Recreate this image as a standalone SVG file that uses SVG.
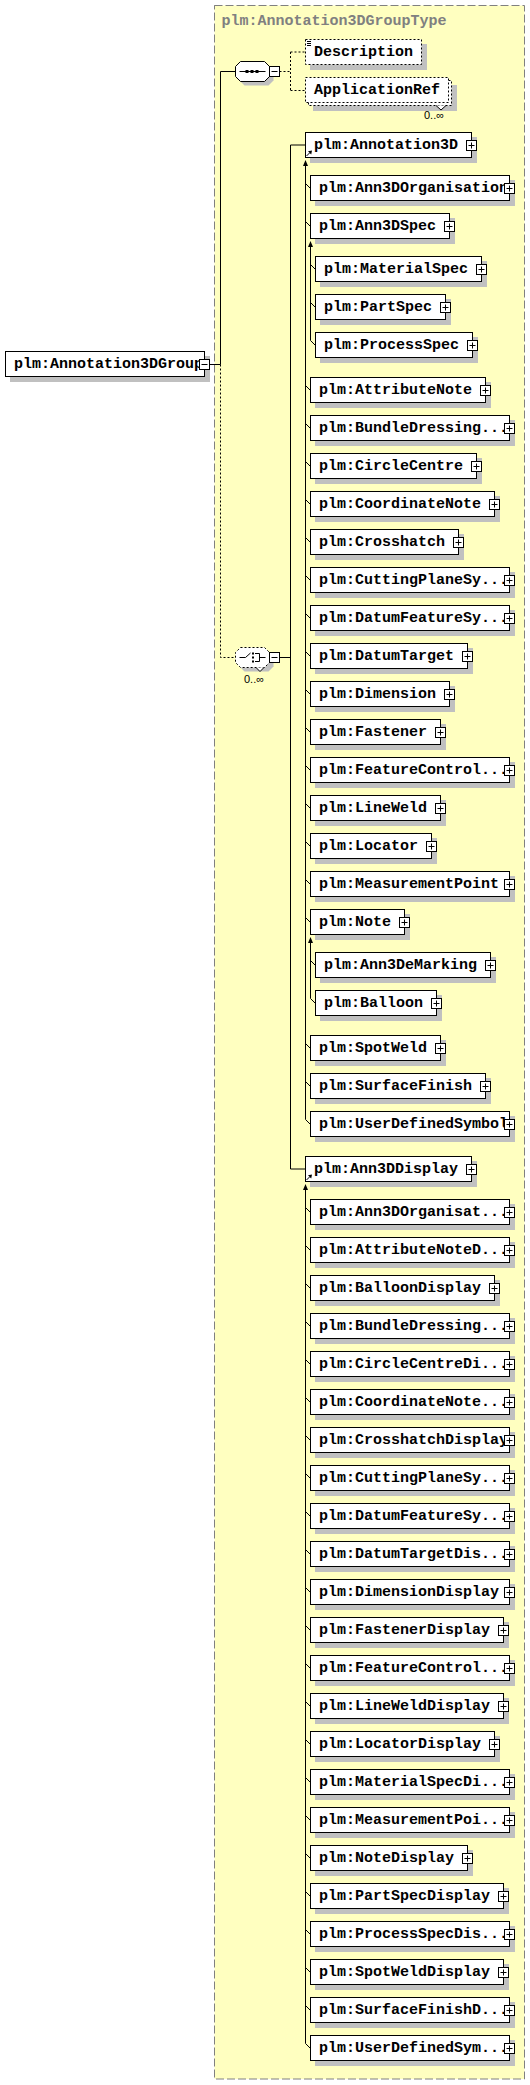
<svg xmlns="http://www.w3.org/2000/svg" xmlns:xlink="http://www.w3.org/1999/xlink" width="530" height="2085" viewBox="0 0 530 2085">
<style>
.bx{fill:#fff;stroke:#000;stroke-width:1}
.db{fill:#fff;stroke:#000;stroke-width:1;stroke-dasharray:2,2}
.sh{fill:#c0c0c0;stroke:none}
.t{font-family:"Liberation Mono","Courier New",monospace;font-weight:bold;font-size:15px;fill:#000}
.ttl{font-family:"Liberation Mono","Courier New",monospace;font-weight:bold;font-size:15px;fill:#808080}
.occ{font-family:"Liberation Sans",Arial,sans-serif;font-size:11px;fill:#000;text-anchor:middle}
.ln{stroke:#000;stroke-width:1;fill:none}
.dl{stroke:#000;stroke-width:1;fill:none;stroke-dasharray:2,2}
.ar{fill:#000;stroke:none}
</style>
<defs>
<g id="plus"><rect x="0" y="0" width="10" height="10" fill="#fff" stroke="#000"/><path d="M2,5H8M5,2V8" stroke="#000" fill="none"/></g>
<g id="minus"><rect x="0" y="0" width="10" height="10" fill="#fff" stroke="#000"/><path d="M2,5H8" stroke="#000" fill="none"/></g>
<g id="ref"><path d="M0.5,5.5L3.5,2.5" stroke="#000" fill="none"/><polygon points="6,0 2,0.8 5.2,4" fill="#000"/></g>
</defs>

<g id="container">
<rect x="214.5" y="5.5" width="310" height="2073.5" fill="#ffffc0" stroke="#808080" stroke-dasharray="8,3"/>
<text class="ttl" x="221.5" y="25">plm:Annotation3DGroupType</text>
</g>

<g id="connectors">
<path class="ln" d="M209.5,364.5H220.5M220.5,71.5V364.5M220.5,71.5H235.5"/>
<path class="dl" d="M220.5,364.5V657.5H235.5"/>
<path class="dl" d="M279.5,71.5H290.5M290.5,52V90.5M290.5,52H305.5M290.5,90.5H305.5"/>
<path class="ln" d="M279.5,657.5H290.5M290.5,145V1169M290.5,145H305.5M290.5,1169H305.5"/>
<polygon class="ar" points="305.5,160 303,166 308,166"/>
<path class="ln" d="M305.5,162V1119.5"/>
<polygon class="ar" points="310.5,241 308,247 313,247"/>
<path class="ln" d="M310.5,243V340.5"/>
<polygon class="ar" points="310.5,937 308,943 313,943"/>
<path class="ln" d="M310.5,939V998.5"/>
<polygon class="ar" points="305.5,1184 303,1190 308,1190"/>
<path class="ln" d="M305.5,1186V2043.5"/>
<path class="ln" d="M305.5,183.5L310.5,188.5M305.5,221.5L310.5,226.5M310.5,264.5L315.5,269.5M310.5,302.5L315.5,307.5M310.5,340.5L315.5,345.5M305.5,385.5L310.5,390.5M305.5,423.5L310.5,428.5M305.5,461.5L310.5,466.5M305.5,499.5L310.5,504.5M305.5,537.5L310.5,542.5M305.5,575.5L310.5,580.5M305.5,613.5L310.5,618.5M305.5,651.5L310.5,656.5M305.5,689.5L310.5,694.5M305.5,727.5L310.5,732.5M305.5,765.5L310.5,770.5M305.5,803.5L310.5,808.5M305.5,841.5L310.5,846.5M305.5,879.5L310.5,884.5M305.5,917.5L310.5,922.5M310.5,960.5L315.5,965.5M310.5,998.5L315.5,1003.5M305.5,1043.5L310.5,1048.5M305.5,1081.5L310.5,1086.5M305.5,1119.5L310.5,1124.5"/>
<path class="ln" d="M305.5,1207.5L310.5,1212.5M305.5,1245.5L310.5,1250.5M305.5,1283.5L310.5,1288.5M305.5,1321.5L310.5,1326.5M305.5,1359.5L310.5,1364.5M305.5,1397.5L310.5,1402.5M305.5,1435.5L310.5,1440.5M305.5,1473.5L310.5,1478.5M305.5,1511.5L310.5,1516.5M305.5,1549.5L310.5,1554.5M305.5,1587.5L310.5,1592.5M305.5,1625.5L310.5,1630.5M305.5,1663.5L310.5,1668.5M305.5,1701.5L310.5,1706.5M305.5,1739.5L310.5,1744.5M305.5,1777.5L310.5,1782.5M305.5,1815.5L310.5,1820.5M305.5,1853.5L310.5,1858.5M305.5,1891.5L310.5,1896.5M305.5,1929.5L310.5,1934.5M305.5,1967.5L310.5,1972.5M305.5,2005.5L310.5,2010.5M305.5,2043.5L310.5,2048.5"/>
</g>

<g id="root">
<rect class="sh" x="10" y="356" width="200" height="26"/>
<rect class="bx" x="5.5" y="351.5" width="199" height="25"/>
<text class="t" x="14" y="367.5">plm:Annotation3DGroup</text>
<use xlink:href="#minus" x="199.5" y="359.5"/>
</g>

<g id="sequence">
<polygon class="sh" points="244.5,65.5 268.5,65.5 273.5,70.5 273.5,80.5 268.5,85.5 244.5,85.5 239.5,80.5 239.5,70.5"/>
<polygon class="bx" points="240.5,61.5 264.5,61.5 269.5,66.5 269.5,76.5 264.5,81.5 240.5,81.5 235.5,76.5 235.5,66.5"/>
<path class="ln" d="M239.5,71.5H265.5"/>
<rect x="245.5" y="70" width="3" height="3" fill="#000"/>
<rect x="250.5" y="70" width="3" height="3" fill="#000"/>
<rect x="255.5" y="70" width="3" height="3" fill="#000"/>
<use xlink:href="#minus" x="269.5" y="66.5"/>
</g>

<g id="Description">
<rect class="sh" x="310" y="44" width="117" height="26"/>
<rect class="db" x="305.5" y="39.5" width="116" height="25"/>
<path class="ln" d="M307,41.5H311M307,43.5H311M307,45.5H311"/>
<text class="t" x="314" y="55.5">Description</text>
</g>

<g id="ApplicationRef">
<rect class="sh" x="313" y="85" width="144" height="26"/>
<rect class="db" x="308.5" y="80.5" width="143" height="25"/>
<rect class="db" x="305.5" y="77.5" width="143" height="25"/>
<text class="t" x="314" y="93.5">ApplicationRef</text>
<polyline points="436,105.5 441,110 446,105.5" fill="#fff" stroke="#000"/>
<text class="occ" x="434" y="119">0..∞</text>
</g>

<g id="choice">
<polygon class="sh" points="244.5,651.5 268.5,651.5 273.5,656.5 273.5,666.5 268.5,671.5 244.5,671.5 239.5,666.5 239.5,656.5"/>
<polygon class="db" points="240.5,647.5 264.5,647.5 269.5,652.5 269.5,662.5 264.5,667.5 240.5,667.5 235.5,662.5 235.5,652.5"/>
<path class="ln" d="M239.5,657.5H245.5L250.5,653M255,653.5H259.5V661.5H255M259.5,657.5H265.5"/>
<rect x="252" y="652.5" width="2" height="2" fill="#000"/>
<rect x="252" y="656.5" width="2" height="2" fill="#000"/>
<rect x="252" y="660.5" width="2" height="2" fill="#000"/>
<polyline points="256,667.5 260,671.5 264,667.5" fill="#fff" stroke="#000"/>
<use xlink:href="#minus" x="269.5" y="652.5"/>
<text class="occ" x="254" y="683">0..∞</text>
</g>

<g id="Annotation3D">
<rect class="sh" x="310" y="137" width="167" height="26"/>
<rect class="bx" x="305.5" y="132.5" width="166" height="25"/>
<text class="t" x="314" y="148.5">plm:Annotation3D</text>
<use xlink:href="#ref" x="306" y="150.5"/>
<use xlink:href="#plus" x="466.5" y="140.5"/>
</g>

<g id="Ann3DOrganisation"><rect class="sh" x="315" y="180" width="200" height="26"/><rect class="bx" x="310.5" y="175.5" width="199" height="25"/><text class="t" x="319" y="191.5">plm:Ann3DOrganisation</text><use xlink:href="#plus" x="504.5" y="183.5"/></g>
<g id="Ann3DSpec"><rect class="sh" x="315" y="218" width="140" height="26"/><rect class="bx" x="310.5" y="213.5" width="139" height="25"/><text class="t" x="319" y="229.5">plm:Ann3DSpec</text><use xlink:href="#plus" x="444.5" y="221.5"/></g>
<g id="MaterialSpec"><rect class="sh" x="320" y="261" width="167" height="26"/><rect class="bx" x="315.5" y="256.5" width="166" height="25"/><text class="t" x="324" y="272.5">plm:MaterialSpec</text><use xlink:href="#plus" x="476.5" y="264.5"/></g>
<g id="PartSpec"><rect class="sh" x="320" y="299" width="131" height="26"/><rect class="bx" x="315.5" y="294.5" width="130" height="25"/><text class="t" x="324" y="310.5">plm:PartSpec</text><use xlink:href="#plus" x="440.5" y="302.5"/></g>
<g id="ProcessSpec"><rect class="sh" x="320" y="337" width="158" height="26"/><rect class="bx" x="315.5" y="332.5" width="157" height="25"/><text class="t" x="324" y="348.5">plm:ProcessSpec</text><use xlink:href="#plus" x="467.5" y="340.5"/></g>
<g id="AttributeNote"><rect class="sh" x="315" y="382" width="176" height="26"/><rect class="bx" x="310.5" y="377.5" width="175" height="25"/><text class="t" x="319" y="393.5">plm:AttributeNote</text><use xlink:href="#plus" x="480.5" y="385.5"/></g>
<g id="BundleDressing"><rect class="sh" x="315" y="420" width="200" height="26"/><rect class="bx" x="310.5" y="415.5" width="199" height="25"/><text class="t" x="319" y="431.5">plm:BundleDressing...</text><use xlink:href="#plus" x="504.5" y="423.5"/></g>
<g id="CircleCentre"><rect class="sh" x="315" y="458" width="167" height="26"/><rect class="bx" x="310.5" y="453.5" width="166" height="25"/><text class="t" x="319" y="469.5">plm:CircleCentre</text><use xlink:href="#plus" x="471.5" y="461.5"/></g>
<g id="CoordinateNote"><rect class="sh" x="315" y="496" width="185" height="26"/><rect class="bx" x="310.5" y="491.5" width="184" height="25"/><text class="t" x="319" y="507.5">plm:CoordinateNote</text><use xlink:href="#plus" x="489.5" y="499.5"/></g>
<g id="Crosshatch"><rect class="sh" x="315" y="534" width="149" height="26"/><rect class="bx" x="310.5" y="529.5" width="148" height="25"/><text class="t" x="319" y="545.5">plm:Crosshatch</text><use xlink:href="#plus" x="453.5" y="537.5"/></g>
<g id="CuttingPlaneSy"><rect class="sh" x="315" y="572" width="200" height="26"/><rect class="bx" x="310.5" y="567.5" width="199" height="25"/><text class="t" x="319" y="583.5">plm:CuttingPlaneSy...</text><use xlink:href="#plus" x="504.5" y="575.5"/></g>
<g id="DatumFeatureSy"><rect class="sh" x="315" y="610" width="200" height="26"/><rect class="bx" x="310.5" y="605.5" width="199" height="25"/><text class="t" x="319" y="621.5">plm:DatumFeatureSy...</text><use xlink:href="#plus" x="504.5" y="613.5"/></g>
<g id="DatumTarget"><rect class="sh" x="315" y="648" width="158" height="26"/><rect class="bx" x="310.5" y="643.5" width="157" height="25"/><text class="t" x="319" y="659.5">plm:DatumTarget</text><use xlink:href="#plus" x="462.5" y="651.5"/></g>
<g id="Dimension"><rect class="sh" x="315" y="686" width="140" height="26"/><rect class="bx" x="310.5" y="681.5" width="139" height="25"/><text class="t" x="319" y="697.5">plm:Dimension</text><use xlink:href="#plus" x="444.5" y="689.5"/></g>
<g id="Fastener"><rect class="sh" x="315" y="724" width="131" height="26"/><rect class="bx" x="310.5" y="719.5" width="130" height="25"/><text class="t" x="319" y="735.5">plm:Fastener</text><use xlink:href="#plus" x="435.5" y="727.5"/></g>
<g id="FeatureControl"><rect class="sh" x="315" y="762" width="200" height="26"/><rect class="bx" x="310.5" y="757.5" width="199" height="25"/><text class="t" x="319" y="773.5">plm:FeatureControl...</text><use xlink:href="#plus" x="504.5" y="765.5"/></g>
<g id="LineWeld"><rect class="sh" x="315" y="800" width="131" height="26"/><rect class="bx" x="310.5" y="795.5" width="130" height="25"/><text class="t" x="319" y="811.5">plm:LineWeld</text><use xlink:href="#plus" x="435.5" y="803.5"/></g>
<g id="Locator"><rect class="sh" x="315" y="838" width="122" height="26"/><rect class="bx" x="310.5" y="833.5" width="121" height="25"/><text class="t" x="319" y="849.5">plm:Locator</text><use xlink:href="#plus" x="426.5" y="841.5"/></g>
<g id="MeasurementPoint"><rect class="sh" x="315" y="876" width="200" height="26"/><rect class="bx" x="310.5" y="871.5" width="199" height="25"/><text class="t" x="319" y="887.5">plm:MeasurementPoint</text><use xlink:href="#plus" x="504.5" y="879.5"/></g>
<g id="Note"><rect class="sh" x="315" y="914" width="95" height="26"/><rect class="bx" x="310.5" y="909.5" width="94" height="25"/><text class="t" x="319" y="925.5">plm:Note</text><use xlink:href="#plus" x="399.5" y="917.5"/></g>
<g id="Ann3DeMarking"><rect class="sh" x="320" y="957" width="176" height="26"/><rect class="bx" x="315.5" y="952.5" width="175" height="25"/><text class="t" x="324" y="968.5">plm:Ann3DeMarking</text><use xlink:href="#plus" x="485.5" y="960.5"/></g>
<g id="Balloon"><rect class="sh" x="320" y="995" width="122" height="26"/><rect class="bx" x="315.5" y="990.5" width="121" height="25"/><text class="t" x="324" y="1006.5">plm:Balloon</text><use xlink:href="#plus" x="431.5" y="998.5"/></g>
<g id="SpotWeld"><rect class="sh" x="315" y="1040" width="131" height="26"/><rect class="bx" x="310.5" y="1035.5" width="130" height="25"/><text class="t" x="319" y="1051.5">plm:SpotWeld</text><use xlink:href="#plus" x="435.5" y="1043.5"/></g>
<g id="SurfaceFinish"><rect class="sh" x="315" y="1078" width="176" height="26"/><rect class="bx" x="310.5" y="1073.5" width="175" height="25"/><text class="t" x="319" y="1089.5">plm:SurfaceFinish</text><use xlink:href="#plus" x="480.5" y="1081.5"/></g>
<g id="UserDefinedSymbol"><rect class="sh" x="315" y="1116" width="200" height="26"/><rect class="bx" x="310.5" y="1111.5" width="199" height="25"/><text class="t" x="319" y="1127.5">plm:UserDefinedSymbol</text><use xlink:href="#plus" x="504.5" y="1119.5"/></g>

<g id="Ann3DDisplay">
<rect class="sh" x="310" y="1161" width="167" height="26"/>
<rect class="bx" x="305.5" y="1156.5" width="166" height="25"/>
<text class="t" x="314" y="1172.5">plm:Ann3DDisplay</text>
<use xlink:href="#ref" x="306" y="1174.5"/>
<use xlink:href="#plus" x="466.5" y="1164.5"/>
</g>

<g id="Ann3DOrganisationDisplay"><rect class="sh" x="315" y="1204" width="200" height="26"/><rect class="bx" x="310.5" y="1199.5" width="199" height="25"/><text class="t" x="319" y="1215.5">plm:Ann3DOrganisat...</text><use xlink:href="#plus" x="504.5" y="1207.5"/></g>
<g id="AttributeNoteDisplay"><rect class="sh" x="315" y="1242" width="200" height="26"/><rect class="bx" x="310.5" y="1237.5" width="199" height="25"/><text class="t" x="319" y="1253.5">plm:AttributeNoteD...</text><use xlink:href="#plus" x="504.5" y="1245.5"/></g>
<g id="BalloonDisplay"><rect class="sh" x="315" y="1280" width="185" height="26"/><rect class="bx" x="310.5" y="1275.5" width="184" height="25"/><text class="t" x="319" y="1291.5">plm:BalloonDisplay</text><use xlink:href="#plus" x="489.5" y="1283.5"/></g>
<g id="BundleDressingDisplay"><rect class="sh" x="315" y="1318" width="200" height="26"/><rect class="bx" x="310.5" y="1313.5" width="199" height="25"/><text class="t" x="319" y="1329.5">plm:BundleDressing...</text><use xlink:href="#plus" x="504.5" y="1321.5"/></g>
<g id="CircleCentreDisplay"><rect class="sh" x="315" y="1356" width="200" height="26"/><rect class="bx" x="310.5" y="1351.5" width="199" height="25"/><text class="t" x="319" y="1367.5">plm:CircleCentreDi...</text><use xlink:href="#plus" x="504.5" y="1359.5"/></g>
<g id="CoordinateNoteDisplay"><rect class="sh" x="315" y="1394" width="200" height="26"/><rect class="bx" x="310.5" y="1389.5" width="199" height="25"/><text class="t" x="319" y="1405.5">plm:CoordinateNote...</text><use xlink:href="#plus" x="504.5" y="1397.5"/></g>
<g id="CrosshatchDisplay"><rect class="sh" x="315" y="1432" width="200" height="26"/><rect class="bx" x="310.5" y="1427.5" width="199" height="25"/><text class="t" x="319" y="1443.5">plm:CrosshatchDisplay</text><use xlink:href="#plus" x="504.5" y="1435.5"/></g>
<g id="CuttingPlaneSyDisplay"><rect class="sh" x="315" y="1470" width="200" height="26"/><rect class="bx" x="310.5" y="1465.5" width="199" height="25"/><text class="t" x="319" y="1481.5">plm:CuttingPlaneSy...</text><use xlink:href="#plus" x="504.5" y="1473.5"/></g>
<g id="DatumFeatureSyDisplay"><rect class="sh" x="315" y="1508" width="200" height="26"/><rect class="bx" x="310.5" y="1503.5" width="199" height="25"/><text class="t" x="319" y="1519.5">plm:DatumFeatureSy...</text><use xlink:href="#plus" x="504.5" y="1511.5"/></g>
<g id="DatumTargetDisplay"><rect class="sh" x="315" y="1546" width="200" height="26"/><rect class="bx" x="310.5" y="1541.5" width="199" height="25"/><text class="t" x="319" y="1557.5">plm:DatumTargetDis...</text><use xlink:href="#plus" x="504.5" y="1549.5"/></g>
<g id="DimensionDisplay"><rect class="sh" x="315" y="1584" width="200" height="26"/><rect class="bx" x="310.5" y="1579.5" width="199" height="25"/><text class="t" x="319" y="1595.5">plm:DimensionDisplay</text><use xlink:href="#plus" x="504.5" y="1587.5"/></g>
<g id="FastenerDisplay"><rect class="sh" x="315" y="1622" width="194" height="26"/><rect class="bx" x="310.5" y="1617.5" width="193" height="25"/><text class="t" x="319" y="1633.5">plm:FastenerDisplay</text><use xlink:href="#plus" x="498.5" y="1625.5"/></g>
<g id="FeatureControlDisplay"><rect class="sh" x="315" y="1660" width="200" height="26"/><rect class="bx" x="310.5" y="1655.5" width="199" height="25"/><text class="t" x="319" y="1671.5">plm:FeatureControl...</text><use xlink:href="#plus" x="504.5" y="1663.5"/></g>
<g id="LineWeldDisplay"><rect class="sh" x="315" y="1698" width="194" height="26"/><rect class="bx" x="310.5" y="1693.5" width="193" height="25"/><text class="t" x="319" y="1709.5">plm:LineWeldDisplay</text><use xlink:href="#plus" x="498.5" y="1701.5"/></g>
<g id="LocatorDisplay"><rect class="sh" x="315" y="1736" width="185" height="26"/><rect class="bx" x="310.5" y="1731.5" width="184" height="25"/><text class="t" x="319" y="1747.5">plm:LocatorDisplay</text><use xlink:href="#plus" x="489.5" y="1739.5"/></g>
<g id="MaterialSpecDisplay"><rect class="sh" x="315" y="1774" width="200" height="26"/><rect class="bx" x="310.5" y="1769.5" width="199" height="25"/><text class="t" x="319" y="1785.5">plm:MaterialSpecDi...</text><use xlink:href="#plus" x="504.5" y="1777.5"/></g>
<g id="MeasurementPointDisplay"><rect class="sh" x="315" y="1812" width="200" height="26"/><rect class="bx" x="310.5" y="1807.5" width="199" height="25"/><text class="t" x="319" y="1823.5">plm:MeasurementPoi...</text><use xlink:href="#plus" x="504.5" y="1815.5"/></g>
<g id="NoteDisplay"><rect class="sh" x="315" y="1850" width="158" height="26"/><rect class="bx" x="310.5" y="1845.5" width="157" height="25"/><text class="t" x="319" y="1861.5">plm:NoteDisplay</text><use xlink:href="#plus" x="462.5" y="1853.5"/></g>
<g id="PartSpecDisplay"><rect class="sh" x="315" y="1888" width="194" height="26"/><rect class="bx" x="310.5" y="1883.5" width="193" height="25"/><text class="t" x="319" y="1899.5">plm:PartSpecDisplay</text><use xlink:href="#plus" x="498.5" y="1891.5"/></g>
<g id="ProcessSpecDisplay"><rect class="sh" x="315" y="1926" width="200" height="26"/><rect class="bx" x="310.5" y="1921.5" width="199" height="25"/><text class="t" x="319" y="1937.5">plm:ProcessSpecDis...</text><use xlink:href="#plus" x="504.5" y="1929.5"/></g>
<g id="SpotWeldDisplay"><rect class="sh" x="315" y="1964" width="194" height="26"/><rect class="bx" x="310.5" y="1959.5" width="193" height="25"/><text class="t" x="319" y="1975.5">plm:SpotWeldDisplay</text><use xlink:href="#plus" x="498.5" y="1967.5"/></g>
<g id="SurfaceFinishDisplay"><rect class="sh" x="315" y="2002" width="200" height="26"/><rect class="bx" x="310.5" y="1997.5" width="199" height="25"/><text class="t" x="319" y="2013.5">plm:SurfaceFinishD...</text><use xlink:href="#plus" x="504.5" y="2005.5"/></g>
<g id="UserDefinedSymbolDisplay"><rect class="sh" x="315" y="2040" width="200" height="26"/><rect class="bx" x="310.5" y="2035.5" width="199" height="25"/><text class="t" x="319" y="2051.5">plm:UserDefinedSym...</text><use xlink:href="#plus" x="504.5" y="2043.5"/></g>
</svg>
